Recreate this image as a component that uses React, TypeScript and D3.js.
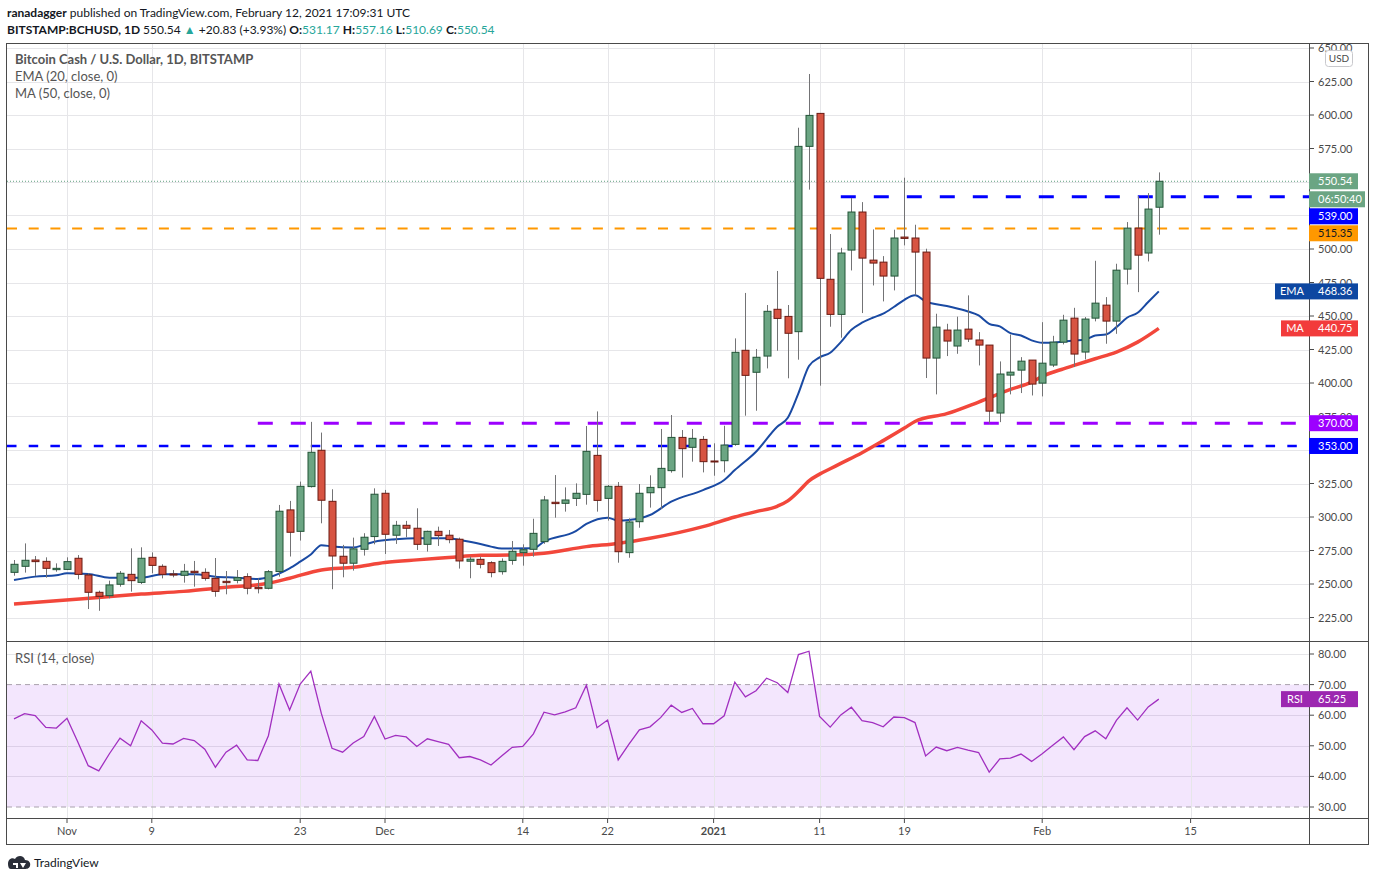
import * as d3 from "d3";

// daily candles from 2020-10-27 to 2021-02-12: [open, high, low, close]
const START = Date.UTC(2020, 9, 27);
const END = Date.UTC(2021, 1, 12);

const candles: [number, number, number, number][] = [
  [258.7, 267.9, 256.2, 264.7], [263.2, 280.3, 258.5, 267.7], [267.9, 270.9, 256.0, 266.7],
  [266.9, 269.9, 254.7, 261.7], [260.7, 265.4, 259.2, 261.7], [260.9, 269.9, 260.4, 266.7],
  [269.2, 271.6, 253.5, 257.2], [256.7, 258.0, 231.3, 243.8], [243.8, 245.0, 230.0, 240.8],
  [241.3, 252.5, 239.3, 249.3], [249.8, 259.7, 248.0, 258.0], [257.2, 276.6, 244.3, 252.5],
  [251.2, 277.4, 250.0, 269.2], [269.9, 273.6, 258.0, 263.9], [263.2, 264.7, 254.2, 257.2],
  [257.5, 260.4, 255.0, 256.7], [256.5, 265.0, 251.0, 259.5], [259.5, 267.2, 248.0, 258.5],
  [258.7, 261.7, 252.5, 254.2], [254.2, 269.4, 240.5, 244.5], [252.0, 259.7, 242.3, 251.0],
  [252.7, 260.4, 250.5, 254.7], [255.5, 258.0, 242.3, 246.8], [247.5, 254.2, 243.0, 246.5],
  [246.8, 260.4, 246.0, 259.2], [259.3, 309.0, 255.5, 304.3], [305.3, 312.0, 270.5, 288.6],
  [289.3, 326.4, 282.4, 322.9], [322.7, 371.0, 322.0, 348.3], [349.8, 363.0, 295.3, 312.5],
  [311.7, 320.7, 246.1, 270.9], [270.7, 279.2, 255.0, 265.5], [265.5, 284.6, 260.0, 276.2],
  [275.9, 287.9, 271.2, 284.9], [285.4, 321.4, 279.6, 317.0], [317.7, 320.2, 272.4, 287.1],
  [286.4, 297.1, 279.9, 293.8], [293.8, 297.1, 284.9, 291.6], [291.6, 306.5, 275.4, 279.6],
  [279.6, 289.8, 274.2, 289.3], [289.3, 292.8, 278.4, 286.1], [286.4, 290.3, 280.4, 283.1],
  [283.4, 284.6, 261.5, 267.2], [267.0, 270.4, 254.3, 268.5], [268.4, 270.4, 261.7, 264.7],
  [265.9, 267.0, 255.0, 258.5], [259.2, 269.1, 257.0, 266.9], [267.6, 282.1, 264.4, 274.4],
  [273.4, 279.6, 263.7, 275.6], [275.9, 298.7, 270.4, 287.8], [281.6, 315.7, 280.0, 312.7],
  [311.0, 331.3, 299.5, 310.0], [310.2, 322.1, 304.0, 312.7], [313.9, 325.1, 308.2, 317.7],
  [316.9, 367.9, 309.2, 349.0], [346.0, 378.8, 304.0, 312.4], [313.9, 323.9, 297.3, 322.9],
  [322.9, 326.1, 265.9, 274.1], [273.4, 299.0, 269.6, 296.3], [296.5, 324.6, 292.0, 317.7],
  [318.1, 331.1, 307.0, 322.1], [321.9, 365.7, 306.0, 336.3], [334.6, 376.1, 333.1, 359.4],
  [359.4, 364.9, 329.4, 351.0], [352.0, 365.7, 341.3, 358.7], [357.9, 360.4, 333.3, 341.3],
  [341.8, 355.0, 330.8, 341.3], [342.0, 368.1, 333.3, 353.7], [354.2, 433.3, 353.2, 422.9],
  [424.4, 467.2, 375.6, 405.7], [408.0, 425.4, 379.3, 419.2], [420.1, 458.2, 410.9, 453.5],
  [455.0, 483.6, 424.1, 448.2], [449.7, 458.2, 403.5, 437.1], [438.3, 590.5, 417.4, 576.6],
  [576.6, 630.6, 544.3, 599.7], [601.2, 601.5, 398.0, 478.1], [477.4, 511.2, 442.0, 451.2],
  [451.2, 500.9, 433.8, 497.0], [499.2, 538.0, 484.0, 527.6], [527.6, 535.0, 452.2, 493.2],
  [491.7, 514.6, 472.8, 489.5], [490.2, 494.7, 460.9, 479.8], [479.8, 514.4, 469.1, 508.2],
  [508.9, 553.2, 502.7, 507.9], [508.2, 518.1, 465.4, 497.7], [497.7, 500.2, 403.7, 418.6],
  [418.6, 451.7, 391.5, 441.7], [439.5, 444.2, 420.1, 431.3], [427.6, 449.5, 421.8, 439.5],
  [440.2, 465.4, 430.6, 432.8], [432.1, 438.0, 413.1, 428.3], [428.3, 428.3, 369.6, 379.0],
  [377.6, 416.1, 370.8, 406.7], [405.9, 436.2, 391.5, 408.1], [409.6, 419.3, 392.5, 416.3],
  [417.1, 417.1, 390.7, 399.2], [399.9, 445.4, 390.0, 414.8], [413.4, 435.2, 411.9, 430.5],
  [430.5, 450.9, 428.8, 446.9], [448.4, 456.1, 411.9, 421.6], [423.1, 449.2, 417.6, 447.7],
  [448.4, 491.2, 446.0, 459.6], [458.1, 464.1, 429.3, 446.2], [446.2, 489.0, 436.7, 484.2],
  [485.0, 520.1, 473.5, 515.6], [515.6, 539.5, 467.8, 495.4], [497.0, 541.7, 490.7, 529.8],
  [531.17, 557.16, 510.69, 550.54],
];

// [candle index, value]
const ema20: [number, number][] = [
  [0, 253], [2, 255.5], [4, 256.5], [5, 258], [7, 257.5], [9, 254.7], [12, 254.7], [14, 257.2],
  [17, 257.2], [19, 255.5], [21, 254.7], [23, 253.7], [24, 255], [26, 261.7], [27, 266.7],
  [28, 272], [29, 279], [30, 278], [32, 277.2], [33, 279.2], [34, 281.6], [36, 283.4],
  [38, 284.1], [41, 284.1], [42, 282.9], [44, 279.9], [45, 277.9], [46, 276.4], [49, 276.6],
  [50, 281.6], [53, 289.5], [54, 294.8], [56, 299.5], [57, 297.3], [58, 297.7], [60, 301.5],
  [62, 311.4], [65, 320.1], [67, 327.6], [68, 335], [70, 348.7], [72, 367.4], [73, 374.1],
  [74, 392.3], [75, 412.7], [76, 419.1], [77, 422.6], [78, 430.5], [79, 439.7], [80, 445],
  [81, 448.7], [82, 451.7], [83, 456.7], [84, 462.1], [85, 465.4], [86, 460.9], [88, 457.4],
  [90, 453.4], [91, 450.4], [92, 444.2], [93, 442.2], [94, 437.2], [95, 435.5], [96, 431.8],
  [97, 430], [98, 430], [99, 431], [100, 431.8], [101, 432.3], [102, 435.5], [103, 436.2],
  [104, 441.7], [105, 448.7], [106, 452.4], [107, 460.4], [108, 468.36],
];

const ma50: [number, number][] = [
  [0, 235.1], [4, 237.5], [8, 240], [12, 242.5], [16, 244.5], [20, 247.5], [24, 250.5],
  [26, 254.3], [29, 260.5], [32, 262.5], [35, 266], [38, 268], [41, 269.7], [44, 271.4],
  [47, 271.6], [50, 272.9], [54, 277.9], [57, 280.3], [60, 284.1], [65, 292.8], [68, 300],
  [70, 304], [72, 308], [73, 312], [74, 319], [75, 327], [76, 332], [77, 336], [78, 340],
  [80, 348], [82, 357], [84, 366.4], [85, 371.3], [88, 377.1], [91, 385.8], [94, 395.2],
  [96, 400.7], [97, 404.9], [99, 410.6], [100, 413.1], [102, 418.1], [104, 423.1],
  [106, 430.5], [108, 440.75],
];

const rsi14 = [
  58.8, 60.5, 59.9, 56.0, 55.8, 59.0, 51.4, 43.5, 41.8, 47.4, 52.5, 50.0, 58.2, 55.2, 50.9,
  50.6, 52.4, 51.7, 48.9, 43.0, 47.9, 50.2, 45.4, 45.2, 53.3, 70.2, 61.7, 70.2, 74.4, 60.5,
  49.2, 47.9, 50.9, 53.0, 59.6, 52.2, 53.4, 52.9, 49.8, 52.3, 51.4, 50.5, 46.1, 46.5, 45.4,
  43.7, 46.7, 49.5, 49.8, 53.9, 61.0, 60.1, 61.1, 62.4, 69.8, 55.9, 58.4, 45.4, 50.5, 55.2,
  56.2, 59.2, 63.3, 60.9, 62.2, 57.2, 57.2, 59.8, 70.8, 66.0, 68.0, 72.1, 70.6, 67.4, 79.8,
  80.9, 59.6, 56.1, 60.1, 62.6, 58.2, 57.6, 56.2, 59.4, 59.2, 57.6, 46.7, 49.6, 48.4, 49.5,
  48.6, 47.8, 41.4, 45.7, 46.0, 47.3, 44.9, 47.4, 50.2, 52.9, 48.7, 53.0, 54.9, 52.3, 58.3,
  62.4, 58.4, 62.7, 65.25,
];

const priceTicks = [650, 625, 600, 575, 550, 525, 500, 475, 450, 425, 400, 375, 350, 325, 300, 275, 250, 225];
const rsiTicks = [80, 70, 60, 50, 40, 30];
const dateTicks: [number, string][] = [
  [Date.UTC(2020, 10, 1), "Nov"], [Date.UTC(2020, 10, 9), "9"], [Date.UTC(2020, 10, 23), "23"],
  [Date.UTC(2020, 11, 1), "Dec"], [Date.UTC(2020, 11, 14), "14"], [Date.UTC(2020, 11, 22), "22"],
  [Date.UTC(2021, 0, 1), "2021"], [Date.UTC(2021, 0, 11), "11"], [Date.UTC(2021, 0, 19), "19"],
  [Date.UTC(2021, 1, 1), "Feb"], [Date.UTC(2021, 1, 15), "15"],
];

// horizontal levels drawn on the chart
const resistance = 539;
const resistanceFrom = Date.UTC(2021, 0, 13);
const breakout = 515.35;
const support = 370;
const supportFrom = Date.UTC(2020, 10, 19);
const support2 = 353;
const lastPrice = 550.54;
const countdown = "06:50:40";
const emaLast = 468.36;
const maLast = 440.75;
const rsiLast = 65.25;

const W = 1376;
const H = 881;
const L = 7;
const R = 1309;
const FONT = "Lato, 'Open Sans', sans-serif";
const UP = "#6ba583";
const DOWN = "#d75442";

export default function App() {
  const x = d3.scaleUtc().domain([START, END]).range([14, 1158.8]);
  const dayX = (i: number) => x(d3.utcDay.offset(new Date(START), i));
  const y = d3.scaleLinear().domain([225, 650]).range([617.5, 48]);
  const ry = d3.scaleLinear().domain([30, 80]).range([807, 654]);

  const line = d3
    .line<[number, number]>()
    .x(d => dayX(d[0]))
    .y(d => y(d[1]))
    .curve(d3.curveMonotoneX);
  const rsiLine = d3
    .line<number>()
    .x((_, i) => dayX(i))
    .y(d => ry(d));

  // right-axis badges, pushed down so they never overlap
  const badges = [
    { y: y(lastPrice), text: lastPrice.toFixed(2), bg: UP, fg: "#fff", w: 49 },
    { y: y(lastPrice) + 18, text: countdown, bg: UP, fg: "#fff", w: 56 },
    { y: y(resistance), text: resistance.toFixed(2), bg: "#0000ff", fg: "#fff", w: 49 },
    { y: y(breakout), text: breakout.toFixed(2), bg: "#ff9800", fg: "#131722", w: 49 },
    { y: y(emaLast), text: emaLast.toFixed(2), bg: "#0d47a1", fg: "#fff", w: 49, tag: "EMA", tw: 34 },
    { y: y(maLast), text: maLast.toFixed(2), bg: "#f23b3b", fg: "#fff", w: 49, tag: "MA", tw: 28 },
    { y: y(support), text: support.toFixed(2), bg: "#9c00ff", fg: "#fff", w: 49 },
    { y: y(support2), text: support2.toFixed(2), bg: "#0000ff", fg: "#fff", w: 49 },
  ];
  for (let i = 1; i < badges.length; i++) {
    badges[i].y = Math.max(badges[i].y, badges[i - 1].y + 17);
  }
  // tick labels fully hidden behind a badge are not drawn
  const hidden = (py: number) => badges.some(b => Math.abs(b.y - py) < 5);
  badges.push({ y: ry(rsiLast), text: rsiLast.toFixed(2), bg: "#9c27b0", fg: "#fff", w: 49, tag: "RSI", tw: 28 });

  return (
    <div style={{ position: "fixed", left: 0, top: 0 }}>
      <svg width={W} height={H} style={{ display: "block", background: "#fff" }}>
        {/* header */}
        <text x={7} y={17} fontSize={12} fill="#131722" fontFamily={FONT}>
          <tspan fontWeight="bold">ranadagger</tspan> published on TradingView.com, February 12, 2021 17:09:31 UTC
        </text>
        <text x={7} y={34} fontSize={12} fill="#131722" fontFamily={FONT}>
          <tspan fontWeight="bold">BITSTAMP:BCHUSD, 1D</tspan>
          <tspan> 550.54 </tspan>
          <tspan fill="#26a69a">▲</tspan>
          <tspan> +20.83 (+3.93%) </tspan>
          <tspan fontWeight="bold">O:</tspan><tspan fill="#26a69a">531.17 </tspan>
          <tspan fontWeight="bold">H:</tspan><tspan fill="#26a69a">557.16 </tspan>
          <tspan fontWeight="bold">L:</tspan><tspan fill="#26a69a">510.69 </tspan>
          <tspan fontWeight="bold">C:</tspan><tspan fill="#26a69a">550.54</tspan>
        </text>

        {/* rsi band */}
        <rect x={L} y={ry(70)} width={R - L} height={ry(30) - ry(70)} fill="#f3e6fd" />

        {/* grids */}
        <g stroke="#e6e6e9" strokeWidth={1}>
          {priceTicks.map(p => (
            <line key={p} x1={L} x2={R} y1={Math.round(y(p)) + 0.5} y2={Math.round(y(p)) + 0.5} />
          ))}
          {[80, 60, 50, 40].map(v => (
            <line key={v} x1={L} x2={R} y1={Math.round(ry(v)) + 0.5} y2={Math.round(ry(v)) + 0.5} stroke={v === 80 ? "#e6e6e9" : "#dccfe8"} />
          ))}
          {dateTicks.map(([d]) => (
            <line key={d} x1={Math.round(x(d)) + 0.5} x2={Math.round(x(d)) + 0.5} y1={43} y2={818} />
          ))}
        </g>
        <g stroke="#a9a2ad" strokeDasharray="5,4">
          <line x1={L} x2={R} y1={ry(70)} y2={ry(70)} />
          <line x1={L} x2={R} y1={ry(30)} y2={ry(30)} />
        </g>

        {/* legends */}
        <g fontFamily={FONT} fontSize={13} fill="#555">
          <text x={15} y={64} fontWeight="bold">Bitcoin Cash / U.S. Dollar, 1D, BITSTAMP</text>
          <text x={15} y={81}>EMA (20, close, 0)</text>
          <text x={15} y={98}>MA (50, close, 0)</text>
          <text x={15} y={663}>RSI (14, close)</text>
        </g>

        {/* last price dotted */}
        <line x1={L} x2={R} y1={y(lastPrice)} y2={y(lastPrice)} stroke="#5f9f7f" strokeDasharray="1,2" />

        {/* levels */}
        <line x1={L} x2={R} y1={y(breakout)} y2={y(breakout)} stroke="#ff9800" strokeWidth={2} strokeDasharray="10,11.7" />
        <line x1={L} x2={R} y1={y(support2)} y2={y(support2)} stroke="#0000ff" strokeWidth={2.5} strokeDasharray="9.5,12.2" />
        <line x1={x(supportFrom)} x2={R} y1={y(support)} y2={y(support)} stroke="#9c00ff" strokeWidth={3} strokeDasharray="15,18" />
        <line x1={x(resistanceFrom)} x2={R} y1={y(resistance)} y2={y(resistance)} stroke="#0000ff" strokeWidth={3} strokeDasharray="15,18" />

        {/* moving averages */}
        <path d={line(ma50) ?? ""} fill="none" stroke="#f2473b" strokeWidth={3.5} />
        <path d={line(ema20) ?? ""} fill="none" stroke="#1a4aa3" strokeWidth={2} />

        {/* candles */}
        {candles.map(([o, h, l, c], i) => {
          const cx = Math.round(dayX(i)) + 0.5;
          const up = c >= o;
          const top = y(Math.max(o, c));
          const bh = Math.max(1, y(Math.min(o, c)) - top);
          return (
            <g key={i}>
              <line x1={cx} x2={cx} y1={y(h)} y2={y(l)} stroke="#737375" />
              <rect
                x={cx - 3.5}
                y={top}
                width={7}
                height={bh}
                fill={up ? UP : DOWN}
                stroke={up ? "#225437" : "#6b1a12"}
                strokeWidth={1}
              />
            </g>
          );
        })}

        {/* rsi */}
        <path d={rsiLine(rsi14) ?? ""} fill="none" stroke="#a12fc0" strokeWidth={1.3} />

        {/* frame */}
        <g stroke="#4a4a4a" fill="none">
          <rect x={6.5} y={43.5} width={1362} height={801} />
          <line x1={R + 0.5} x2={R + 0.5} y1={43} y2={845} />
          <line x1={L} x2={1369} y1={641.5} y2={641.5} />
          <line x1={L} x2={1369} y1={818.5} y2={818.5} />
        </g>

        {/* axes */}
        <g fontFamily={FONT} fontSize={11} fill="#4a4a4a">
          {priceTicks.map(p => (
            <g key={p}>
              <line x1={R} x2={R + 5} y1={y(p)} y2={y(p)} stroke="#4a4a4a" />
              {!hidden(y(p)) && <text x={1318} y={y(p) + 4}>{p.toFixed(2)}</text>}
            </g>
          ))}
          {rsiTicks.map(v => (
            <g key={v}>
              <line x1={R} x2={R + 5} y1={ry(v)} y2={ry(v)} stroke="#4a4a4a" />
              <text x={1318} y={ry(v) + 4}>{v.toFixed(2)}</text>
            </g>
          ))}
          {dateTicks.map(([d, t]) => (
            <g key={d}>
              <line x1={x(d)} x2={x(d)} y1={818} y2={823} stroke="#4a4a4a" />
              <text x={x(d)} y={835} textAnchor="middle" fontWeight={t === "2021" ? "bold" : "normal"}>{t}</text>
            </g>
          ))}
        </g>

        {/* USD badge */}
        <rect x={1325.5} y={50.5} width={27} height={16} rx={3} fill="#fff" stroke="#c8c8cc" />
        <text x={1339} y={62} fontSize={10} fill="#4a4a4a" textAnchor="middle" fontFamily={FONT}>USD</text>

        {/* value badges */}
        <g fontFamily={FONT} fontSize={11}>
          {badges.map(b => (
            <g key={b.text}>
              <rect x={R} y={b.y - 8} width={b.w} height={16} fill={b.bg} />
              <text x={R + 9} y={b.y + 4} fill={b.fg}>{b.text}</text>
              {b.tag && (
                <>
                  <rect x={R - (b.tw ?? 0)} y={b.y - 8} width={b.tw} height={16} fill={b.bg} />
                  <text x={R - (b.tw ?? 0) / 2} y={b.y + 4} fill="#fff" textAnchor="middle">{b.tag}</text>
                </>
              )}
            </g>
          ))}
        </g>

        {/* footer logo */}
        <g transform="translate(8,855)">
          <path d="M0 9 C0 4 4 2 7 4 C9 0 16 0 17 5 C21 5 23 8 22 11 C21 14 18 14 16 14 L3 14 C1 14 0 12 0 9 Z" fill="#2a2e39" />
          <path d="M5 8 h5 v5 h-2 v-3 h-3 z M12 8 l3 5 l3 -5 z" fill="#fff" />
        </g>
        <text x={34} y={867} fontSize={12} fill="#131722" fontFamily={FONT}>TradingView</text>
      </svg>
    </div>
  );
}
